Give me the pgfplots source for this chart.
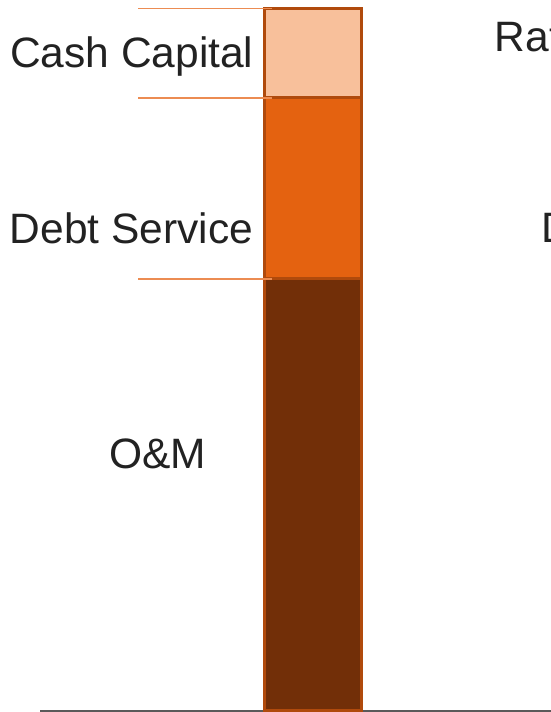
\documentclass[border=0pt]{standalone}
\usepackage{pgfplots}
\pgfplotsset{compat=1.18}
\usepackage{fontspec}
\setmainfont{Liberation Sans}
\definecolor{cashc}{HTML}{F8C09B}
\definecolor{debtc}{HTML}{E46210}
\definecolor{omc}{HTML}{722F08}
\definecolor{edgec}{HTML}{B04A0C}
\definecolor{leadc}{HTML}{EC8C52}
\definecolor{basec}{HTML}{5A5A5A}
\definecolor{txt}{HTML}{222222}
\tikzset{lbl/.style={font=\fontsize{42.5bp}{50bp}\selectfont, text=txt, inner sep=0pt, anchor=base west}}
\begin{document}
\begin{tikzpicture}
\begin{axis}[
  at={(0,0)}, anchor=south west,
  scale only axis, width=551bp, height=712bp,
  xmin=-2.125, xmax=3.385, ymin=-0.285, ymax=101.28,
  hide axis, clip=false,
  ybar stacked, bar width=0.97,
]
\draw[leadc, line width=1.5bp] (axis cs:-0.745,100.1) -- (axis cs:0.595,100.1);
\draw[leadc, line width=1.5bp] (axis cs:-0.745,87.3) -- (axis cs:0.595,87.3);
\draw[leadc, line width=1.5bp] (axis cs:-0.745,61.5) -- (axis cs:0.595,61.5);
\addplot[fill=omc, draw=edgec, line width=3bp] coordinates {(1,61.5)};
\addplot[fill=debtc, draw=edgec, line width=3bp] coordinates {(1,25.8)};
\addplot[fill=cashc, draw=edgec, line width=3bp] coordinates {(1,12.7)};
\draw[basec, line width=1.5bp] (axis cs:-1.725,-0.14) -- (axis cs:3.385,-0.14);
\node[lbl] at (axis cs:-2.025,91.58) {Cash Capital};
\node[lbl] at (axis cs:-2.029,66.48) {Debt Service};
\node[lbl] at (axis cs:-1.035,34.52) {O\&M};
\node[lbl] at (axis cs:2.82,93.87) {Rate Revenue};
\node[lbl] at (axis cs:3.29,66.62) {Debt};
\end{axis}
\pgfresetboundingbox
\path[use as bounding box] (current axis.south west) rectangle (current axis.north east);
\end{tikzpicture}
\end{document}
